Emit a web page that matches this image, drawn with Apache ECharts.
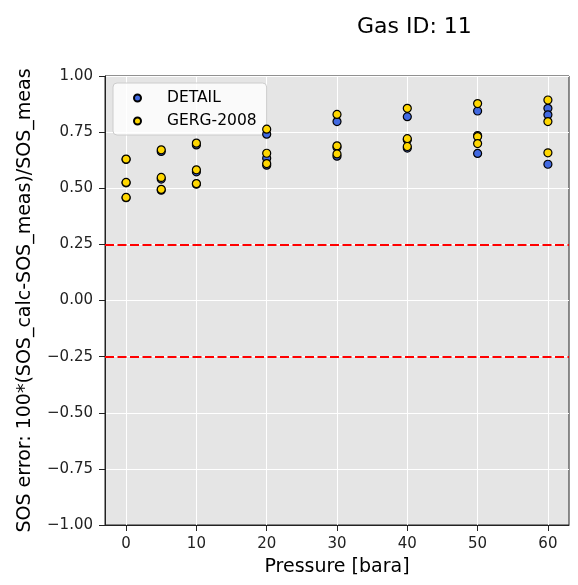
<!DOCTYPE html>
<html>
<head>
<meta charset="utf-8">
<script src="https://cdn.jsdelivr.net/npm/echarts@6/dist/echarts.min.js"></script>
<style>
html,body{margin:0;padding:0;background:#fff;}
#chart{width:578px;height:585px;}
</style>
</head>
<body>
<div id="chart"></div>
<script>
var titleText = 'Gas ID: 11';
var xLabel = 'Pressure [bara]';
var yLabel = 'SOS error: 100*(SOS_calc-SOS_meas)/SOS_meas';
var seriesNames = ['DETAIL', 'GERG-2008'];
var pressures = [0,0,0, 5,5,5, 10,10,10, 20,20,20, 30,30,30, 40,40,40, 50,50,50, 60,60,60];
var detailValues = [0.628,0.524,0.458, 0.664,0.541,0.491, 0.693,0.573,0.518, 0.741,0.634,0.603, 0.797,0.683,0.643, 0.819,0.716,0.679, 0.844,0.735,0.655, 0.856,0.827,0.607];
var gergValues = [0.630,0.526,0.459, 0.671,0.548,0.495, 0.701,0.582,0.521, 0.763,0.656,0.610, 0.829,0.689,0.653, 0.856,0.721,0.686, 0.877,0.730,0.699, 0.893,0.797,0.658];
var xTicks = [0, 10, 20, 30, 40, 50, 60];
var yTicks = [-1.00, -0.75, -0.50, -0.25, 0.00, 0.25, 0.50, 0.75, 1.00];
var limitLines = [0.25, -0.25];

var font = 'DejaVu Sans';
function pairs(xs, ys){ return xs.map(function(x,i){ return [x, ys[i]]; }); }
function fmtY(v){ var s = Math.abs(v).toFixed(2); return (v < -1e-9 ? '\u2212' : '') + s; }

var chart = echarts.init(document.getElementById('chart'), null, {renderer:'canvas'});
chart.setOption({
  animation: false,
  backgroundColor: '#ffffff',
  title: {
    text: titleText, left: 352, top: 11,
    textStyle: {fontFamily: font, fontSize: 22, fontWeight: 'normal', color: '#000'}
  },
  legend: {
    orient: 'vertical', left: 113, top: 83,
    padding: [7, 10, 6, 20],
    itemGap: 7, itemWidth: 7, itemHeight: 7, icon: 'circle',
    backgroundColor: 'rgba(255,255,255,0.8)', borderColor: '#cccccc', borderWidth: 1, borderRadius: 4,
    textStyle: {fontFamily: font, fontSize: 15.5, color: '#000', padding: [0,0,0,21]},
    data: seriesNames
  },
  grid: {
    left: 105, right: 9, top: 76, bottom: 60,
    show: true, backgroundColor: '#e5e5e5', borderColor: '#222', borderWidth: 1
  },
  xAxis: {
    type: 'value', min: -3, max: 63,
    name: xLabel, nameLocation: 'middle', nameGap: 33,
    nameTextStyle: {fontFamily: font, fontSize: 19, color: '#000'},
    axisLine: {show: true, onZero: false, lineStyle: {color: '#222', width: 1}},
    axisTick: {show: true, length: 6, customValues: xTicks, lineStyle: {color: '#222'}},
    axisLabel: {customValues: xTicks, margin: 12, fontFamily: font, fontSize: 15, color: '#222'},
    splitLine: {show: false}
  },
  yAxis: {
    type: 'value', min: -1, max: 1, interval: 0.25,
    name: yLabel, nameLocation: 'middle', nameGap: 70,
    nameTextStyle: {fontFamily: font, fontSize: 19, color: '#000'},
    axisLine: {show: true, onZero: false, lineStyle: {color: '#222', width: 1}},
    axisTick: {show: true, length: 6, lineStyle: {color: '#222'}},
    axisLabel: {margin: 12, fontFamily: font, fontSize: 15, color: '#222', formatter: fmtY},
    splitLine: {show: true, lineStyle: {color: '#ffffff', width: 1}}
  },
  series: [
    {
      name: 'grid-x', type: 'line', data: [], z: 1, silent: true,
      markLine: {
        silent: true, symbol: 'none', z: 1, label: {show: false},
        lineStyle: {color: '#ffffff', width: 1, type: 'solid'},
        data: xTicks.map(function(v){ return {xAxis: v}; })
      }
    },
    {
      name: 'limits', type: 'line', data: [], z: 3, silent: true,
      markLine: {
        silent: true, symbol: 'none', z: 3, label: {show: false},
        lineStyle: {color: '#ff0000', width: 2, type: [9, 3.5]},
        data: limitLines.map(function(v){ return {yAxis: v}; })
      }
    },
    {
      name: seriesNames[0], type: 'scatter', z: 4, symbol: 'circle', symbolSize: 8,
      itemStyle: {color: '#4169e1', borderColor: '#000', borderWidth: 1.2, opacity: 1},
      data: pairs(pressures, detailValues)
    },
    {
      name: seriesNames[1], type: 'scatter', z: 4, symbol: 'circle', symbolSize: 8,
      itemStyle: {color: '#ffd700', borderColor: '#000', borderWidth: 1.2, opacity: 1},
      data: pairs(pressures, gergValues)
    }
  ]
});
</script>
</body>
</html>
